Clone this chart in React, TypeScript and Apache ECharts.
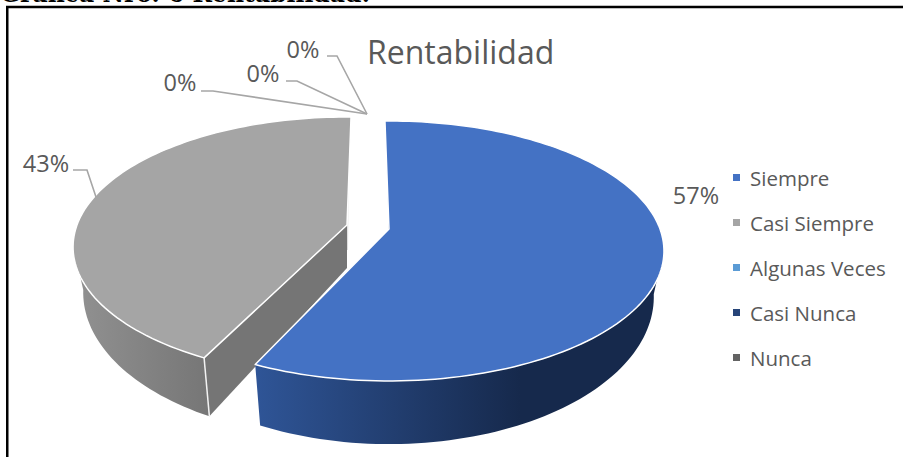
import React, { useEffect, useRef } from "react";
import * as echarts from "echarts";

const categories = ["Siempre", "Casi Siempre", "Algunas Veces", "Casi Nunca", "Nunca"];
const values = [57.14, 42.86, 0, 0, 0];
const colors = ["#4472C4", "#A5A5A5", "#5B9BD5", "#264478", "#636363"];
const titleText = "Rentabilidad";
const captionText = "Gráfica Nro. 6 Rentabilidad:";

const FONT = "'Open Sans', 'Noto Sans', sans-serif";
const TEXT = "#595959";
const total = values.reduce((a, b) => a + b, 0);
const K = 0.169;

type View = { x: number; y: number; a: number; b: number; rot: number };
// projected position of an angle on the rim of a slice (clockwise from 12 o'clock)
function rim(v: View, deg: number): number[] {
  const t = ((deg + v.rot) * Math.PI) / 180;
  const u = Math.sin(t);
  const w = -Math.cos(t);
  const p = 1 / (1 - K * w);
  return [v.x + v.a * u * p, v.y + v.b * w * p];
}
function arc(v: View, from: number, to: number): number[][] {
  const pts: number[][] = [];
  const n = Math.max(2, Math.ceil(Math.abs(to - from) / 1.5));
  for (let i = 0; i <= n; i++) pts.push(rim(v, from + ((to - from) * i) / n));
  return pts;
}

const tops: View[] = [
  { x: 389, y: 229, a: 271, b: 126.3, rot: -1 },
  { x: 347, y: 225, a: 270, b: 126.3, rot: 1 },
];
const bottoms: View[] = [
  { x: 389, y: 272, a: 261, b: 143, rot: -1 },
  { x: 347, y: 268, a: 260, b: 141, rot: 1 },
];
const walls = [
  { from: 99.7, to: -1, c0: "#16294C", c1: "#2F5597", x0: 520, x1: 255 },
  { from: -1, to: 260.3, c0: "#767676", c1: "#909090", x0: 209, x1: 80 },
];
const leaders: (number[][] | null)[] = [
  null,
  [[73, 170], [87, 170], [96, 197]],
  [[201, 91], [213, 91], [367, 114]],
  [[286, 81], [297, 81], [367, 114]],
  [[327, 56], [337, 56], [367, 114]],
];
const labelPos = [
  [696, 195],
  [46, 163],
  [180, 82],
  [263, 73],
  [303, 49],
];

function renderSlice(index: number) {
  return (_params: any, api: any) => {
    const value = api.value(0) as number;
    const before = values.slice(0, index).reduce((a, b) => a + b, 0);
    const start = (before / total) * 360;
    const end = ((before + value) / total) * 360;
    const children: any[] = [];
    if (value > 0) {
      const top = tops[index];
      const bot = bottoms[index];
      const w = walls[index];
      const from = w.from < 0 ? start : w.from;
      const to = w.to < 0 ? end : w.to;
      const outer = [...arc(top, from, to), ...arc(bot, to, from)];
      children.push({
        type: "polygon",
        shape: { points: outer },
        style: {
          fill: new echarts.graphic.LinearGradient(w.x0, 0, w.x1, 0, [
            { offset: 0, color: w.c0 },
            { offset: 1, color: w.c1 },
          ], true),
          stroke: "none",
        },
      });
      if (index === 1) {
        // cut face seen through the gap between the slices
        children.push({
          type: "polygon",
          shape: { points: [[top.x, top.y], rim(top, start), rim(bot, start), [bot.x, bot.y]] },
          style: { fill: "#757575", stroke: "none" },
        });
        children.push({
          type: "line",
          shape: { x1: rim(top, start)[0], y1: rim(top, start)[1], x2: rim(bot, start)[0], y2: rim(bot, start)[1] },
          style: { stroke: "#F2F2F2", lineWidth: 1.5 },
        });
        children.push({
          type: "line",
          shape: { x1: top.x + 1.5, y1: top.y - 85, x2: top.x + 0.5, y2: top.y + 25 },
          style: { stroke: "#DDDDDD", lineWidth: 1 },
        });
      } else {
        children.push({
          type: "line",
          shape: { x1: top.x - 2, y1: top.y - 85, x2: top.x, y2: top.y },
          style: { stroke: "#8E99B3", lineWidth: 1 },
        });
      }
      children.push({
        type: "polygon",
        shape: { points: [[top.x, top.y], ...arc(top, start, end)] },
        style: { fill: colors[index], stroke: "#FFFFFF", lineWidth: 1.5, lineJoin: "round" },
      });
    }
    const leader = leaders[index];
    if (leader) {
      children.push({
        type: "polyline",
        shape: { points: leader },
        style: { fill: "none", stroke: "#A6A6A6", lineWidth: 1.6 },
      });
    }
    children.push({
      type: "text",
      style: {
        text: Math.round((value / total) * 100) + "%",
        x: labelPos[index][0],
        y: labelPos[index][1],
        fill: TEXT,
        font: `23.5px ${FONT}`,
        align: "center",
        verticalAlign: "middle",
      },
    });
    return { type: "group", children };
  };
}

export default function App() {
  const ref = useRef<HTMLDivElement>(null);
  useEffect(() => {
    document.body.style.margin = "0";
    document.body.style.overflow = "hidden";
    const chart = echarts.init(ref.current!, undefined, { renderer: "svg" });
    chart.setOption({
      animation: false,
      backgroundColor: "#FFFFFF",
      color: colors,
      title: {
        text: titleText,
        left: 367,
        top: 35,
        textStyle: { fontFamily: FONT, fontSize: 32, fontWeight: "normal", color: TEXT },
        padding: 0,
      },
      legend: {
        orient: "vertical",
        left: 733,
        top: 167,
        padding: 0,
        icon: "rect",
        itemWidth: 7,
        itemHeight: 7,
        itemGap: 24,
        data: categories,
        textStyle: { fontFamily: FONT, fontSize: 20.5, color: TEXT, padding: [0, 0, 0, 5] },
      },
      graphic: [
        {
          type: "text",
          style: { text: captionText, x: 0, y: -18.5, fill: "#000", font: `bold 23.5px 'DejaVu Serif', serif` },
        },
        {
          type: "polyline",
          shape: { points: [[7.25, 457], [7.25, 7], [903, 7]] },
          style: { fill: "none", stroke: "#000", lineWidth: 2.5 },
        },
      ],
      series: categories.map((name, i) => ({
        type: "custom",
        name,
        coordinateSystem: "none",
        z: i === 0 ? 4 : 3,
        silent: true,
        data: [[values[i]]],
        renderItem: renderSlice(i),
      })),
    });
    return () => chart.dispose();
  }, []);
  return <div ref={ref} style={{ position: "absolute", left: 0, top: 0, width: 903, height: 457 }} />;
}
